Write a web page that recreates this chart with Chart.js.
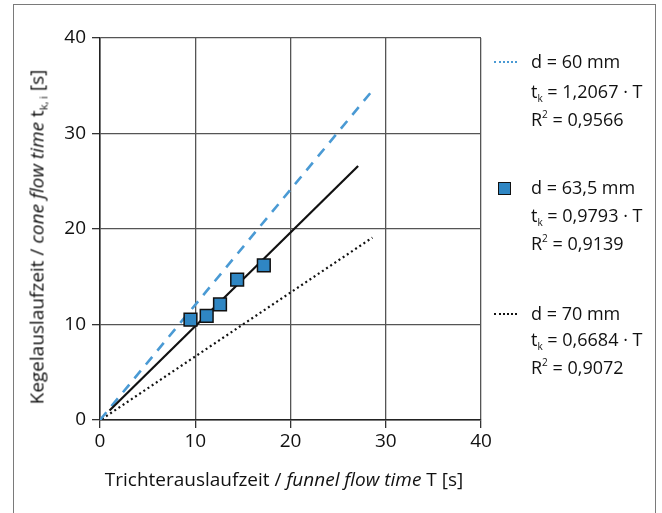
<!DOCTYPE html>
<html>
<head>
<meta charset="utf-8">
<script src="https://cdn.jsdelivr.net/npm/chart.js@4/dist/chart.umd.min.js"></script>
<style>
  html, body { margin:0; padding:0; background:#fff; }
  #wrap { position:relative; width:662px; height:513px; overflow:hidden; font-family:"Open Sans","Noto Sans",sans-serif; color:#111; }
  #frame { position:absolute; left:13px; top:4px; width:643px; height:530px; border:1px solid #7a7a7a; box-sizing:border-box; }
  canvas { position:absolute; left:0; top:0; }
  .t { position:absolute; font-size:18px; white-space:nowrap; line-height:1; }
  .t sub { font-size:10px; vertical-align:-4px; }
  .t sup { font-size:10px; vertical-align:8px; }
  #ytitle { position:absolute; left:38px; top:237px; transform:translate(-50%,-50%) rotate(-90deg); font-size:19px; white-space:nowrap; line-height:1; }
  #ytitle sub { font-size:11px; vertical-align:-4px; }
  #xtitle { position:absolute; left:284px; top:479px; transform:translate(-50%,-50%); font-size:19px; white-space:nowrap; line-height:1; }
  .sym { position:absolute; }
</style>
</head>
<body>
<div id="wrap">
  <div id="frame"></div>
  <canvas id="c" width="662" height="513"></canvas>
  <div id="ytitle">Kegelauslaufzeit / <i>cone flow time</i> t<sub>k, i</sub> [s]</div>
  <div id="xtitle">Trichterauslaufzeit / <i>funnel flow time</i> T [s]</div>

  <div class="sym" style="left:494px;top:61px;width:23px;border-top:2px dotted #4a9ad4;"></div>
  <div class="t" style="left:531px;top:52px;">d = 60 mm</div>
  <div class="t" style="left:531px;top:82px;">t<sub>k</sub> = 1,2067 · T</div>
  <div class="t" style="left:531px;top:109px;">R<sup>2</sup> = 0,9566</div>

  <div class="sym" style="left:498px;top:182px;width:11px;height:11px;background:#2f86c3;border:1.5px solid #111;"></div>
  <div class="t" style="left:531px;top:178px;">d = 63,5 mm</div>
  <div class="t" style="left:531px;top:206px;">t<sub>k</sub> = 0,9793 · T</div>
  <div class="t" style="left:531px;top:233px;">R<sup>2</sup> = 0,9139</div>

  <div class="sym" style="left:494px;top:313px;width:23px;border-top:2px dotted #111;"></div>
  <div class="t" style="left:531px;top:304px;">d = 70 mm</div>
  <div class="t" style="left:531px;top:330px;">t<sub>k</sub> = 0,6684 · T</div>
  <div class="t" style="left:531px;top:357px;">R<sup>2</sup> = 0,9072</div>
</div>
<script>
// Measured points, d = 63.5 mm
const pointsX = [9.5, 11.2, 12.6, 14.4, 17.2];
const pointsY = [10.5, 10.9, 12.1, 14.7, 16.2];
// Regression line end points
const line60X = [0, 28.6];
const line60Y = [0, 34.5];
const line635X = [1.0, 27.1];
const line635Y = [1.0, 26.6];
const line70X = [0.2, 28.6];
const line70Y = [0.1, 19.1];
// Axis ticks
const xTicks = [0, 10, 20, 30, 40];
const yTicks = [0, 10, 20, 30, 40];

const toXY = (xs, ys) => xs.map((x, i) => ({x, y: ys[i]}));
const FONT = "'Open Sans','Noto Sans',sans-serif";

new Chart(document.getElementById('c'), {
  type: 'scatter',
  data: {
    datasets: [
      { label: 'd = 60 mm', data: toXY(line60X, line60Y), showLine: true, borderColor: '#4a9ad4', borderWidth: 2.6, borderDash: [10, 8], pointRadius: 0, order: 3 },
      { label: 'fit 63,5', data: toXY(line635X, line635Y), showLine: true, borderColor: '#111', borderWidth: 2.2, pointRadius: 0, order: 2 },
      { label: 'd = 70 mm', data: toXY(line70X, line70Y), showLine: true, borderColor: '#111', borderWidth: 2.2, borderDash: [2, 3], pointRadius: 0, order: 4 },
      { label: 'd = 63,5 mm', data: toXY(pointsX, pointsY), showLine: false, pointStyle: 'rect', pointRadius: 9, backgroundColor: '#2f86c3', borderColor: '#111', borderWidth: 1.5, order: 1 }
    ]
  },
  options: {
    responsive: false,
    animation: false,
    events: [],
    layout: { padding: { left: 0, top: 38, right: 181, bottom: 0 } },
    plugins: { legend: { display: false }, tooltip: { enabled: false } },
    scales: {
      x: {
        type: 'linear', min: 0, max: 40,
        afterFit: s => { s.height = 93; },
        afterBuildTicks: s => { s.ticks = xTicks.map(v => ({value: v})); },
        grid: { color: '#555', lineWidth: 1.3, tickLength: 8, drawTicks: true, tickColor: '#333' },
        border: { color: '#222', width: 1.5 },
        ticks: { color: '#111', font: { family: FONT, size: 19 }, padding: 2, maxRotation: 0 }
      },
      y: {
        type: 'linear', min: 0, max: 40,
        afterFit: s => { s.width = 100; },
        afterBuildTicks: s => { s.ticks = yTicks.map(v => ({value: v})); },
        grid: { color: '#555', lineWidth: 1.3, tickLength: 8, drawTicks: true, tickColor: '#333' },
        border: { color: '#222', width: 1.5 },
        ticks: { color: '#111', font: { family: FONT, size: 19 }, padding: 6 }
      }
    }
  }
});
</script>
</body>
</html>
